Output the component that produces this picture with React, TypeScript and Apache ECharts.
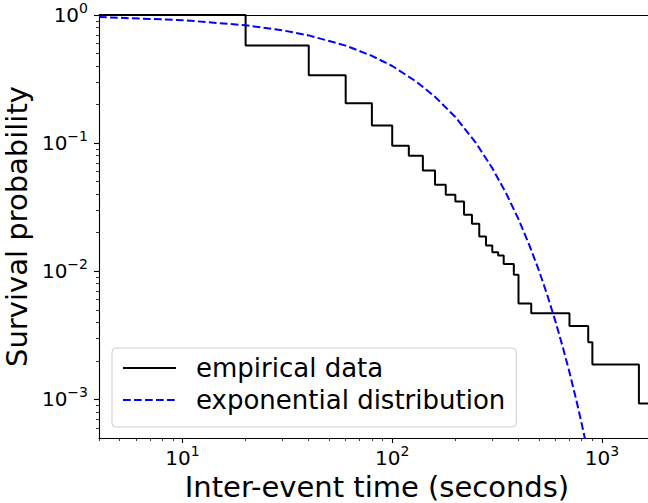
import React, { useEffect, useRef } from "react";
import * as echarts from "echarts";

// Empirical survival function (step after each x)
const empiricalX = [4, 20, 40, 60, 80, 100, 120, 140, 160, 180, 200, 220, 240, 260, 280, 300, 320, 340, 380, 400, 460, 700, 860, 900, 1500, 1790];
const empiricalY = [1, 0.578, 0.339, 0.205, 0.137, 0.0956, 0.0798, 0.0613, 0.0474, 0.0396, 0.0351, 0.0276, 0.0235, 0.0187, 0.0159, 0.0141, 0.0133, 0.0114, 0.0094, 0.0056, 0.0047, 0.00374, 0.0028, 0.00187, 0.00093, 0.00093];

// Exponential distribution curve points
const expX = [4, 10, 20, 30, 40, 60, 80, 100, 130, 160, 200, 250, 300, 350, 400, 450, 500, 550, 600, 650, 700, 750, 800, 850];
const expY = [0.964, 0.912, 0.832, 0.759, 0.693, 0.577, 0.48, 0.4, 0.303, 0.23, 0.16, 0.101, 0.0638, 0.0403, 0.0255, 0.0161, 0.0102, 0.00644, 0.00407, 0.00257, 0.00163, 0.00103, 0.00065, 0.00041];

const xMajor = [10, 100, 1000];
const xMinor = [4, 5, 6, 7, 8, 9, 20, 30, 40, 50, 60, 70, 80, 90, 200, 300, 400, 500, 600, 700, 800, 900];
const yMajor = [1, 0.1, 0.01, 0.001];
const yMinor = [0.9, 0.8, 0.7, 0.6, 0.5, 0.4, 0.3, 0.2, 0.09, 0.08, 0.07, 0.06, 0.05, 0.04, 0.03, 0.02, 0.009, 0.008, 0.007, 0.006, 0.005, 0.004, 0.003, 0.002, 0.0009, 0.0008, 0.0007, 0.0006];

const X_MIN = 4;
const X_MAX = 1790;
const Y_MIN = 0.0005;
const Y_MAX = 1;

const FONT = "DejaVu Sans";

const supFormatter = (v: number) => {
  const e = Math.round(Math.log10(v));
  const s = e < 0 ? "\u2212" + String(-e) : String(e);
  return `{b|10}{s|${s}}`;
};

const rich = {
  b: { fontSize: 20, fontFamily: FONT, color: "#000", lineHeight: 28 },
  s: { fontSize: 14, fontFamily: FONT, color: "#000", lineHeight: 13, verticalAlign: "top" },
};

export default function App() {
  const ref = useRef<HTMLDivElement>(null);
  useEffect(() => {
    if (!ref.current) return;
    const chart = echarts.init(ref.current, null, { renderer: "svg" });
    const empData = empiricalX.map((x, i) => [x, empiricalY[i]]);
    const expData = expX.map((x, i) => [x, expY[i]]);
    chart.setOption({
      animation: false,
      backgroundColor: "#fff",
      grid: {
        left: 99,
        top: 15,
        bottom: 65,
        width: 556,
        containLabel: false,
        outerBoundsMode: "none",
        show: false,
      },
      legend: {
        orient: "vertical",
        left: 112,
        top: 348,
        padding: [4, 11, 11, 10],
        itemWidth: 53,
        itemHeight: 14,
        itemGap: 0,
        backgroundColor: "rgba(255,255,255,0.8)",
        borderColor: "#cccccc",
        borderWidth: 1,
        borderRadius: 4,
        itemStyle: { color: "transparent", borderColor: "transparent", borderWidth: 0, opacity: 0 },
        textStyle: {
          fontFamily: FONT,
          fontSize: 26,
          color: "#000",
          lineHeight: 32,
          padding: [0, 0, 0, 15],
        },
        data: ["empirical data", "exponential distribution"],
      },
      xAxis: [
        {
          type: "log",
          logBase: 10,
          min: X_MIN,
          max: X_MAX,
          position: "bottom",
          name: "Inter-event time (seconds)",
          nameLocation: "middle",
          nameGap: 30,
          nameTextStyle: { fontFamily: FONT, fontSize: 29, color: "#000", lineHeight: 29 },
          axisLine: { show: true, lineStyle: { color: "#000", width: 1.1 } },
          axisTick: { show: true, customValues: xMajor, length: 5, lineStyle: { color: "#000", width: 1.1 } },
          axisLabel: { show: true, customValues: xMajor, margin: 6, formatter: supFormatter, rich },
          splitLine: { show: false },
          minorTick: { show: false },
        },
        {
          type: "log",
          logBase: 10,
          min: X_MIN,
          max: X_MAX,
          position: "bottom",
          axisLine: { show: false },
          axisTick: { show: true, customValues: xMinor, length: 3, lineStyle: { color: "#000", width: 0.8 } },
          axisLabel: { show: false },
          splitLine: { show: false },
        },
        {
          type: "log",
          logBase: 10,
          min: X_MIN,
          max: X_MAX,
          position: "top",
          axisLine: { show: true, lineStyle: { color: "#000", width: 1.1 } },
          axisTick: { show: false },
          axisLabel: { show: false },
          splitLine: { show: false },
        },
      ],
      yAxis: [
        {
          type: "log",
          logBase: 10,
          min: Y_MIN,
          max: Y_MAX,
          position: "left",
          name: "Survival probability",
          nameLocation: "middle",
          nameGap: 61,
          nameTextStyle: { fontFamily: FONT, fontSize: 29, color: "#000", lineHeight: 29 },
          axisLine: { show: true, lineStyle: { color: "#000", width: 1.1 } },
          axisTick: { show: true, customValues: yMajor, length: 5, lineStyle: { color: "#000", width: 1.1 } },
          axisLabel: { show: true, customValues: yMajor, margin: 11, formatter: supFormatter, rich, align: "right" },
          splitLine: { show: false },
          minorTick: { show: false },
        },
        {
          type: "log",
          logBase: 10,
          min: Y_MIN,
          max: Y_MAX,
          position: "left",
          axisLine: { show: false },
          axisTick: { show: true, customValues: yMinor, length: 3, lineStyle: { color: "#000", width: 0.8 } },
          axisLabel: { show: false },
          splitLine: { show: false },
        },
      ],
      series: [
        {
          name: "empirical data",
          type: "line",
          step: "end",
          xAxisIndex: 0,
          yAxisIndex: 0,
          data: empData,
          symbol: "none",
          color: "#000",
          lineStyle: { color: "#000", width: 2 },
        },
        {
          name: "exponential distribution",
          type: "line",
          xAxisIndex: 0,
          yAxisIndex: 0,
          data: expData,
          symbol: "none",
          color: "#0000ff",
          lineStyle: { color: "#0000ff", width: 2, type: [7.7, 3.3] },
        },
      ],
    });
    return () => chart.dispose();
  }, []);
  return (
    <div
      ref={ref}
      style={{ position: "absolute", left: 0, top: 0, width: 648, height: 503 }}
    />
  );
}
